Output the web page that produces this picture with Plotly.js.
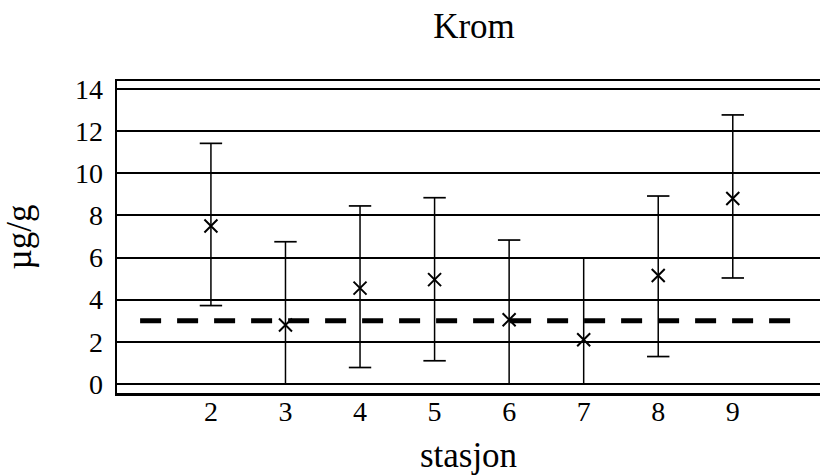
<!DOCTYPE html>
<html>
<head>
<meta charset="utf-8">
<script src="https://cdn.plot.ly/plotly-3.0.1.min.js"></script>
<style>
  body { margin: 0; background: #fff; }
  #chart { width: 820px; height: 475px; }
</style>
</head>
<body>
<div id="chart"></div>
<script>
// stations and chromium values (µg/g)
const stations = [2, 3, 4, 5, 6, 7, 8, 9];
const means = [7.5, 2.8, 4.55, 4.95, 3.05, 2.1, 5.15, 8.8];
const upper = [11.42, 6.75, 8.45, 8.84, 6.83, 5.97, 8.92, 12.77];
const lower = [3.72, 0, 0.78, 1.1, 0, 0, 1.3, 5.03];
const lowerCapped = [true, false, true, true, false, false, true, true];

// reference level (dashed line)
const refLevel = 3;
const refSpan = [1.05, 9.85];

const black = "#000";
const serif = '"Liberation Serif", "Times New Roman", Times, serif';

const stems = {
  x: stations,
  y: lower,
  type: "scatter",
  mode: "markers",
  marker: { size: 0.1, color: "rgba(0,0,0,0)" },
  error_y: {
    type: "data",
    symmetric: false,
    array: upper.map((u, i) => u - lower[i]),
    arrayminus: stations.map(() => 0),
    width: 0,
    thickness: 1.5,
    color: black,
  },
  hoverinfo: "skip",
  showlegend: false,
};

const caps = {
  x: stations.concat(stations),
  y: upper.concat(lower.map((v, i) => (lowerCapped[i] ? v : null))),
  type: "scatter",
  mode: "markers",
  marker: {
    symbol: "line-ew",
    size: 16,
    color: black,
    line: { width: 1.7, color: black },
  },
  hoverinfo: "skip",
  showlegend: false,
};

const refLine = {
  x: refSpan,
  y: refSpan.map(() => refLevel),
  type: "scatter",
  mode: "lines",
  line: { color: black, width: 5, dash: "21px,16px" },
  hoverinfo: "skip",
  showlegend: false,
};

const points = {
  x: stations,
  y: means,
  type: "scatter",
  mode: "markers",
  marker: {
    symbol: "x-thin-open",
    size: 13,
    color: black,
    line: { width: 2, color: black },
  },
  showlegend: false,
};

const layout = {
  width: 820,
  height: 475,
  margin: { l: 117, r: 0, t: 81, b: 82 },
  paper_bgcolor: "#fff",
  plot_bgcolor: "#fff",
  font: { family: serif, size: 28, color: black },
  title: {
    text: "Krom",
    font: { family: serif, size: 35, color: black },
    x: 0.578,
    xanchor: "center",
    y: 0.945,
    yanchor: "middle",
  },
  xaxis: {
    range: [0.74, 10.17],
    tickvals: stations,
    ticks: "",
    ticklabelstandoff: -8,
    showgrid: false,
    zeroline: false,
    showline: true,
    mirror: true,
    linecolor: black,
    linewidth: 2.5,
    tickfont: { family: serif, size: 28 },
    title: { text: "stasjon", font: { family: serif, size: 35 }, standoff: 20 },
  },
  yaxis: {
    range: [-0.43, 14.38],
    tickvals: [0, 2, 4, 6, 8, 10, 12, 14],
    ticks: "",
    ticklabelstandoff: 6,
    showgrid: true,
    gridcolor: black,
    gridwidth: 2,
    zeroline: false,
    showline: true,
    linecolor: black,
    linewidth: 2.5,
    tickfont: { family: serif, size: 28 },
    title: { text: "µg/g", font: { family: serif, size: 35 }, standoff: 34 },
  },
};

Plotly.newPlot("chart", [stems, caps, refLine, points], layout, {
  displayModeBar: false,
  staticPlot: true,
});
</script>
</body>
</html>
